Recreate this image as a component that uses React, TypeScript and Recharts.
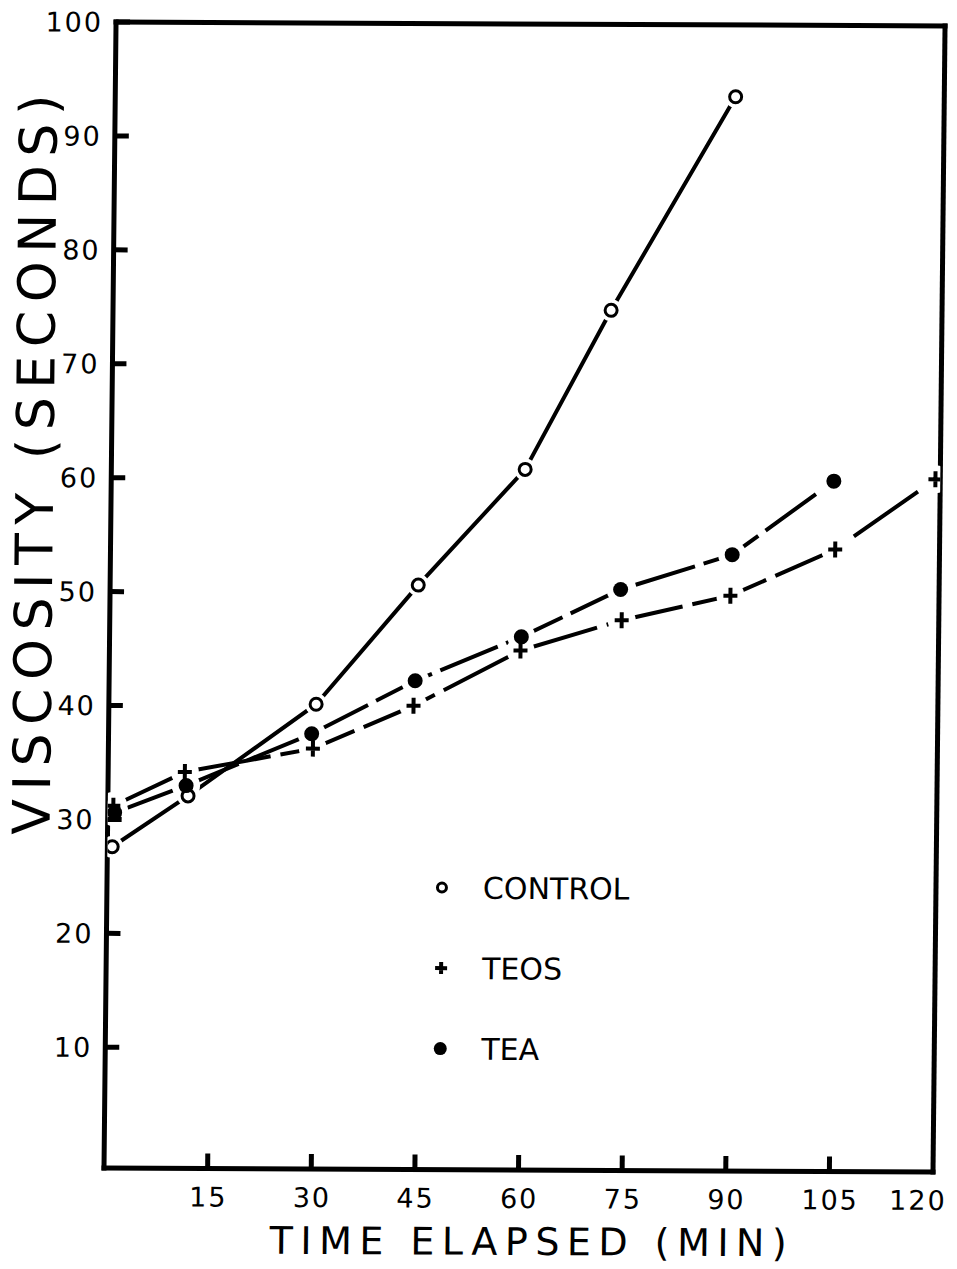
import React from 'react';
import { LineChart, Line, XAxis, YAxis, Legend } from 'recharts';

// ---- data ----
const seriesNames = ['CONTROL', 'TEOS', 'TEA'];

const controlTime = [0.7, 11.6, 30.0, 44.6, 59.9, 72.1, 89.8];
const controlVisc = [27.6, 32.1, 40.2, 50.7, 60.9, 74.9, 93.7];

const teosTime = [0.8, 11.1, 29.6, 44.1, 59.5, 74.1, 89.8, 104.9, 119.3];
const teosVisc = [31.2, 34.2, 36.3, 40.1, 45.0, 47.7, 49.9, 54.0, 60.2];

const teaTime = [1.0, 11.3, 29.4, 44.3, 59.6, 73.9, 90.0, 104.6];
const teaVisc = [30.6, 33.0, 37.6, 42.3, 46.2, 50.4, 53.5, 60.0];

const xTicks = [15, 30, 45, 60, 75, 90, 105, 120];
const yTicks = [10, 20, 30, 40, 50, 60, 70, 80, 90, 100];

const xTitle = 'TIME ELAPSED (MIN)';
const yTitle = 'VISCOSITY (SECONDS)';

// ---- helpers ----
const toPoints = (ts: number[], vs: number[]) => ts.map((t, i) => ({ t, v: vs[i] }));
const controlData = toPoints(controlTime, controlVisc);
const teosData = toPoints(teosTime, teosVisc);
const teaData = toPoints(teaTime, teaVisc);

const FONT = '"DejaVu Sans", "Liberation Sans", sans-serif';
const Y_MARGIN = 14;
const X_MARGIN = 18;

const axisStyle = { stroke: '#000', strokeWidth: 5, strokeLinecap: 'square' as const };

function YTick(props: any) {
  const { x, y, payload } = props;
  const ax = x + Y_MARGIN;
  return (
    <g>
      <line x1={ax} y1={y} x2={ax + 14} y2={y} stroke="#000" strokeWidth={5} />
      <text x={x + 1} y={y} dy="0.36em" textAnchor="end" fontSize={27} fontFamily={FONT} fill="#000" letterSpacing={2}>
        {payload.value}
      </text>
    </g>
  );
}

function XTick(props: any) {
  const { x, y, payload } = props;
  const ay = y - X_MARGIN;
  const isLast = payload.value === xTicks[xTicks.length - 1];
  return (
    <g>
      {!isLast && <line x1={x} y1={ay} x2={x} y2={ay - 15} stroke="#000" strokeWidth={5} />}
      <text
        x={isLast ? x + 14 : x + 1}
        y={ay + 38}
        textAnchor={isLast ? 'end' : 'middle'}
        fontSize={27}
        fontFamily={FONT}
        fill="#000"
        letterSpacing={2}
      >
        {payload.value}
      </text>
    </g>
  );
}

const XTitle = () => (
  <text x={529} y={1253} textAnchor="middle" fontSize={38} fontFamily={FONT} fill="#000" textLength={517} lengthAdjust="spacing">
    {xTitle}
  </text>
);

const YTitle = () => (
  <text x={46} y={465} transform="rotate(-90 46 465)" textAnchor="middle" fontSize={52} fontFamily={FONT} fill="#000" textLength={740} lengthAdjust="spacing">
    {yTitle}
  </text>
);

const halo = (r: number, tag: string) => (p: any) => (
  <circle key={`${tag}-${p.index}`} cx={p.cx} cy={p.cy} r={r} fill="#fff" stroke="none" />
);

const openCircle = (p: any) => (
  <circle key={`oc-${p.index}`} cx={p.cx} cy={p.cy} r={6} fill="#fff" stroke="#000" strokeWidth={3} />
);
const filledCircle = (p: any) => (
  <circle key={`fc-${p.index}`} cx={p.cx} cy={p.cy} r={7.5} fill="#000" stroke="none" />
);
const plusMark = (p: any) => (
  <path key={`pl-${p.index}`} d={`M${p.cx - 7},${p.cy}H${p.cx + 7}M${p.cx},${p.cy - 8}V${p.cy + 8}`} stroke="#000" strokeWidth={4} fill="none" />
);

function legendSymbol(name: string, x: number, y: number) {
  if (name === 'CONTROL') return <circle cx={x} cy={y} r={4.5} fill="#fff" stroke="#000" strokeWidth={3} />;
  if (name === 'TEOS') return <path d={`M${x - 6},${y}H${x + 6}M${x},${y - 6}V${y + 6}`} stroke="#000" strokeWidth={4} />;
  return <circle cx={x} cy={y} r={6.5} fill="#000" />;
}

function LegendContent(props: any) {
  const payload = props.payload || [];
  const items = seriesNames.filter((n) => payload.some((p: any) => p.value === n));
  return (
    <svg width={260} height={210} style={{ overflow: 'visible' }}>
      {items.map((name: string, i: number) => {
        const cy = 28 + i * 80.5;
        return (
          <g key={name}>
            {legendSymbol(name, 19, cy)}
            <text x={60} y={cy + 11} fontSize={30} fontFamily={FONT} fill="#000">
              {name}
            </text>
          </g>
        );
      })}
    </svg>
  );
}

export default function App() {
  return (
    <div style={{ position: 'absolute', left: 0, top: 0, width: 957, height: 1269, overflow: 'hidden', background: '#fff' }}>
      <div style={{ width: 957, height: 1269, transform: 'matrix(1, 0.0048, -0.0105, 1, 0, 0)', transformOrigin: '104px 1168px' }}>
        <LineChart width={957} height={1269} margin={{ top: 21, right: 23, bottom: 0, left: 0 }}>
          <XAxis
            xAxisId="b"
            type="number"
            dataKey="t"
            domain={[0, 120]}
            ticks={xTicks}
            interval={0}
            height={101}
            tickSize={0}
            tickMargin={X_MARGIN}
            tickLine={false}
            axisLine={axisStyle}
            tick={<XTick />}
            label={XTitle}
            allowDataOverflow
          />
          <XAxis xAxisId="t" orientation="top" type="number" dataKey="t" domain={[0, 120]} height={1} tick={false} tickLine={false} axisLine={axisStyle} allowDataOverflow />
          <YAxis
            yAxisId="l"
            type="number"
            dataKey="v"
            domain={[-0.6, 100]}
            ticks={yTicks}
            interval={0}
            width={104}
            tickSize={0}
            tickMargin={Y_MARGIN}
            tickLine={false}
            axisLine={axisStyle}
            tick={<YTick />}
            label={YTitle}
            allowDataOverflow
          />
          <YAxis yAxisId="r" orientation="right" type="number" dataKey="v" domain={[-0.6, 100]} width={1} tick={false} tickLine={false} axisLine={axisStyle} allowDataOverflow />

          {/* frame helpers so the top / right axes are in use */}
          <Line xAxisId="t" yAxisId="r" data={teosData} dataKey="v" name="frame" legendType="none" stroke="none" dot={false} activeDot={false} isAnimationActive={false} />

          {/* visible lines, broken around their markers */}
          <Line xAxisId="b" yAxisId="l" data={teaData} dataKey="v" name="tea-line" legendType="none" stroke="#000" strokeWidth={4} strokeDasharray="62 9" dot={halo(14, 'ht')} activeDot={false} isAnimationActive={false} />
          <Line xAxisId="b" yAxisId="l" data={teosData} dataKey="v" name="teos-line" legendType="none" stroke="#000" strokeWidth={4} strokeDasharray="78 10" dot={halo(14, 'hs')} activeDot={false} isAnimationActive={false} />
          <Line xAxisId="b" yAxisId="l" data={controlData} dataKey="v" name="control-line" legendType="none" stroke="#000" strokeWidth={4} dot={halo(11, 'hc')} activeDot={false} isAnimationActive={false} />

          {/* markers on top */}
          <Line xAxisId="b" yAxisId="l" data={controlData} dataKey="v" name="CONTROL" stroke="none" dot={openCircle} activeDot={false} isAnimationActive={false} />
          <Line xAxisId="b" yAxisId="l" data={teosData} dataKey="v" name="TEOS" stroke="none" dot={plusMark} activeDot={false} isAnimationActive={false} />
          <Line xAxisId="b" yAxisId="l" data={teaData} dataKey="v" name="TEA" stroke="none" dot={filledCircle} activeDot={false} isAnimationActive={false} />

          <Legend
            layout="vertical"
            align="center"
            verticalAlign="middle"
            content={<LegendContent />}
            wrapperStyle={{ left: 420, top: 858, width: 260, height: 210 }}
          />
        </LineChart>
      </div>
    </div>
  );
}
